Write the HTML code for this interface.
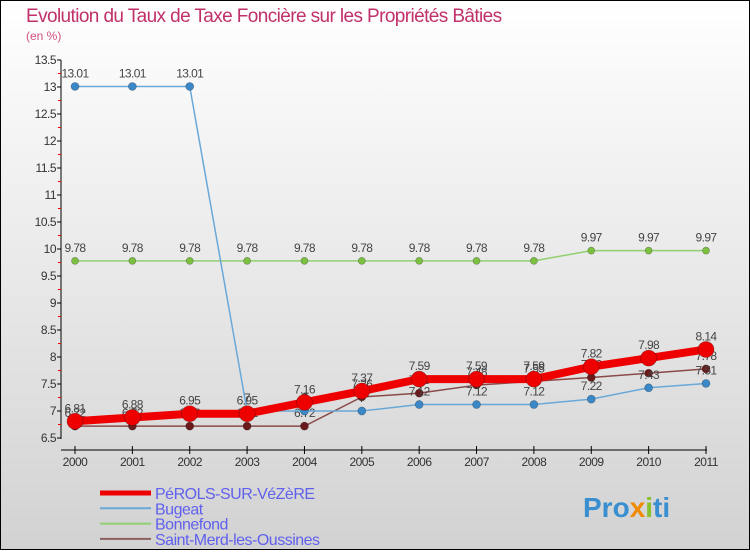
<!DOCTYPE html>
<html><head><meta charset="utf-8"><style>
html,body{margin:0;padding:0}
body{width:750px;height:550px;overflow:hidden;font-family:"Liberation Sans",sans-serif}
</style></head><body>
<svg id="chart" width="750" height="550" xmlns="http://www.w3.org/2000/svg">
<defs><linearGradient id="bg" x1="0" y1="0" x2="0" y2="1"><stop offset="0" stop-color="#ffffff"/><stop offset="1" stop-color="#d2d2d2"/></linearGradient></defs>
<rect x="0.5" y="0.5" width="749" height="549" fill="url(#bg)" stroke="#000" stroke-width="1"/>
<text x="26" y="22" font-size="19" fill="#c0306a" letter-spacing="-0.6">Evolution du Taux de Taxe Foncière sur les Propriétés Bâties</text>
<text x="26" y="40" font-size="12" fill="#d05080">(en %)</text>
<g id="axes"></g>
<g id="series"></g>
<g id="legend"></g>
<text x="583" y="517" font-size="28" font-weight="bold" fill="#3a8fd0">Pro<tspan fill="#f08a00">x</tspan><tspan fill="#88c030">i</tspan>ti</text>
</svg>
<script>
const years=[2000,2001,2002,2003,2004,2005,2006,2007,2008,2009,2010,2011];
const perols=[6.81,6.88,6.95,6.95,7.16,7.37,7.59,7.59,7.59,7.82,7.98,8.14];
const bugeat=[13.01,13.01,13.01,7,7,7,7.12,7.12,7.12,7.22,7.43,7.51];
const bonnefond=[9.78,9.78,9.78,9.78,9.78,9.78,9.78,9.78,9.78,9.97,9.97,9.97];
const saintMerd=[6.72,6.72,6.72,6.72,6.72,7.26,7.33,7.48,7.55,7.62,7.7,7.78];
const yTicks=[6.5,7,7.5,8,8.5,9,9.5,10,10.5,11,11.5,12,12.5,13,13.5];
const NS="http://www.w3.org/2000/svg";
const x=i=>75+i*(706-75)/(years.length-1);
const y=v=>438-(v-6.5)*54;
function mk(tag,attrs,parent){const e=document.createElementNS(NS,tag);for(const k in attrs)e.setAttribute(k,attrs[k]);parent.appendChild(e);return e;}
const axes=document.getElementById('axes');
let a=mk('line',{x1:61,y1:y(13.5),x2:61,y2:y(6.5)+1,stroke:'#000'},axes);


yTicks.forEach((t,i)=>{
  mk('line',{x1:57,y1:y(t),x2:61,y2:y(t),stroke:'#000'},axes);
  if(i<yTicks.length-1){mk('line',{x1:58,y1:y(t+0.25),x2:61,y2:y(t+0.25),stroke:'#e00'},axes);}
  const tx=mk('text',{x:56,y:y(t)+4,'font-size':12,'text-anchor':'end',fill:'#333','letter-spacing':'-0.5'},axes);
  tx.textContent=String(t);
  
  
});
a=mk('line',{x1:61,y1:450,x2:707,y2:450,stroke:'#000'},axes);


years.forEach((yr,i)=>{
  mk('line',{x1:x(i),y1:446,x2:x(i),y2:454,stroke:'#000'},axes);
  const tx=mk('text',{x:x(i),y:466,'font-size':12,'text-anchor':'middle',fill:'#333','letter-spacing':'-0.5'},axes);
  tx.textContent=String(yr);
  
  
});
const series=[
 {name:'Bonnefond',vals:bonnefond,color:'#90d070',dot:'#7cc040',w:1.5,r:3.5},
 {name:'Saint-Merd-les-Oussines',vals:saintMerd,color:'#8a4a4a',dot:'#6a1a1a',w:1.5,r:4},
 {name:'Bugeat',vals:bugeat,color:'#6aa8d8',dot:'#3a88c8',w:1.5,r:4},
 {name:'PéROLS-SUR-VéZèRE',vals:perols,color:'#ee0000',dot:'#ee0000',w:8,r:8}
];
const sg=document.getElementById('series');
series.forEach(s=>{
  const g=mk('g',{},sg);
  
  
  const pl=mk('polyline',{points:s.vals.map((v,i)=>x(i)+','+y(v)).join(' '),fill:'none',stroke:s.color,'stroke-width':s.w},g);
  
  
  s.vals.forEach((v,i)=>{
    const c=mk('circle',{cx:x(i),cy:y(v),r:s.r,fill:s.dot,stroke:'rgba(0,0,0,0.3)','stroke-width':0.7},g);
    
    
  });
  s.vals.forEach((v,i)=>{
    const t=mk('text',{x:x(i),y:y(v)-9,'font-size':12,'text-anchor':'middle',fill:'#444','letter-spacing':'-0.6'},g);
    t.textContent=String(v);
    
    
  });
});
const lg=document.getElementById('legend');
const leg=[['PéROLS-SUR-VéZèRE','#ee0000',5],['Bugeat','#6aa8d8',2],['Bonnefond','#90d070',2],['Saint-Merd-les-Oussines','#8a6060',2]];
leg.forEach((l,i)=>{
  const g=mk('g',{},lg);
  
  
  const yy=493+i*15.3;
  mk('line',{x1:100,y1:yy,x2:151,y2:yy,stroke:l[1],'stroke-width':l[2]},g);
  const t=mk('text',{x:155,y:yy+6,'font-size':16,fill:'#6060ee','letter-spacing':'-0.5'},g);
  t.textContent=l[0];
});
</script>
</body></html>
